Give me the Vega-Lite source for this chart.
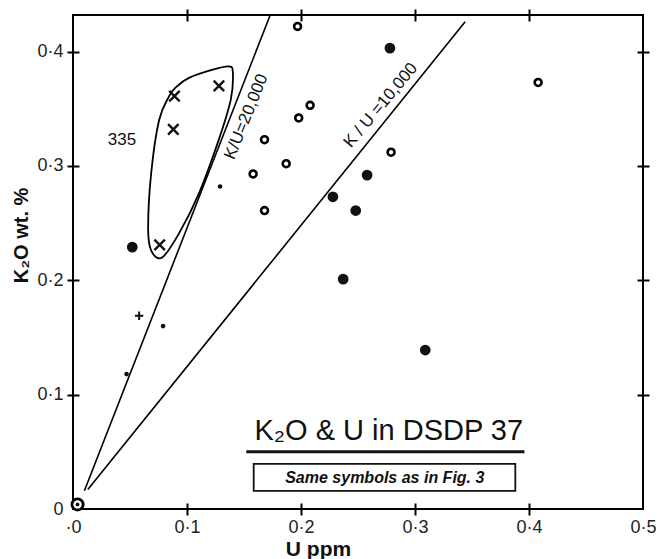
{
  "$schema": "https://vega.github.io/schema/vega-lite/v6.json",
  "width": 570,
  "height": 494,
  "autosize": {"type": "none"},
  "padding": {"left": 73, "top": 15, "right": 24, "bottom": 50},
  "background": "white",
  "config": {"view": {"stroke": "black", "strokeWidth": 2}, "font": "Liberation Sans"},
  "datasets": {
    "lines": [
      {"line": "K/U=20000", "u": 0.010, "k": 0.016},
      {"line": "K/U=20000", "u": 0.173, "k": 0.432},
      {"line": "K/U=10000", "u": 0.013, "k": 0.017},
      {"line": "K/U=10000", "u": 0.344, "k": 0.426}
    ],
    "loop": [
      {"o": 1, "u": 0.0904, "k": 0.369},
      {"o": 2, "u": 0.1017, "k": 0.377},
      {"o": 3, "u": 0.1218, "k": 0.384},
      {"o": 4, "u": 0.1367, "k": 0.387},
      {"o": 5, "u": 0.1402, "k": 0.382},
      {"o": 6, "u": 0.1384, "k": 0.358},
      {"o": 7, "u": 0.1279, "k": 0.323},
      {"o": 8, "u": 0.1105, "k": 0.276},
      {"o": 9, "u": 0.0930, "k": 0.241},
      {"o": 10, "u": 0.0782, "k": 0.220},
      {"o": 11, "u": 0.0686, "k": 0.226},
      {"o": 12, "u": 0.0659, "k": 0.246},
      {"o": 13, "u": 0.0686, "k": 0.294},
      {"o": 14, "u": 0.0755, "k": 0.340},
      {"o": 15, "u": 0.0843, "k": 0.361}
    ],
    "pts": [
      {"kind": "open", "u": 0.197, "k": 0.422},
      {"kind": "open", "u": 0.408, "k": 0.373},
      {"kind": "open", "u": 0.208, "k": 0.353},
      {"kind": "open", "u": 0.198, "k": 0.342},
      {"kind": "open", "u": 0.168, "k": 0.323},
      {"kind": "open", "u": 0.187, "k": 0.302},
      {"kind": "open", "u": 0.158, "k": 0.293},
      {"kind": "open", "u": 0.168, "k": 0.261},
      {"kind": "open", "u": 0.279, "k": 0.312},
      {"kind": "filled", "u": 0.278, "k": 0.403},
      {"kind": "filled", "u": 0.258, "k": 0.292},
      {"kind": "filled", "u": 0.228, "k": 0.273},
      {"kind": "filled", "u": 0.248, "k": 0.261},
      {"kind": "filled", "u": 0.309, "k": 0.139},
      {"kind": "filled", "u": 0.237, "k": 0.201},
      {"kind": "filled", "u": 0.052, "k": 0.229},
      {"kind": "small", "u": 0.129, "k": 0.282},
      {"kind": "small", "u": 0.079, "k": 0.160},
      {"kind": "small", "u": 0.047, "k": 0.118},
      {"kind": "plus", "u": 0.058, "k": 0.169},
      {"kind": "cross", "u": 0.128, "k": 0.370},
      {"kind": "cross", "u": 0.089, "k": 0.361},
      {"kind": "cross", "u": 0.088, "k": 0.332},
      {"kind": "cross", "u": 0.076, "k": 0.231},
      {"kind": "origin", "u": 0.004, "k": 0.004}
    ]
  },
  "resolve": {"axis": {"x": "independent", "y": "independent"}},
  "layer": [
    {
      "data": {"name": "lines"},
      "mark": {"type": "line", "color": "black", "strokeWidth": 1.6},
      "encoding": {
        "x": {
          "field": "u", "type": "quantitative",
          "scale": {"domain": [0, 0.5], "nice": false, "zero": false},
          "axis": {
            "orient": "bottom", "values": [0, 0.1, 0.2, 0.3, 0.4, 0.5],
            "domain": false, "grid": false, "offset": -6, "tickSize": 12, "tickWidth": 2, "tickColor": "black",
            "tickOpacity": {"condition": {"test": "datum.value < 0.001 || datum.value > 0.499", "value": 0}, "value": 1},
            "labelPadding": 3, "labelFontSize": 18, "labelColor": "#222", "labelFlush": false, "labelOverlap": false,
            "labelExpr": "datum.value < 0.001 ? '·0' : replace(format(datum.value, '.1f'), '.', '·')",
            "title": "U ppm", "titleFontSize": 21, "titleFontWeight": "bold", "titleColor": "#111",
            "titleX": 245, "titleY": 46, "titleBaseline": "middle"
          }
        },
        "y": {
          "field": "k", "type": "quantitative",
          "scale": {"domain": [0, 0.432], "nice": false, "zero": false},
          "axis": {
            "orient": "left", "values": [0, 0.1, 0.2, 0.3, 0.4],
            "domain": false, "grid": false, "offset": -6, "tickSize": 12, "tickWidth": 2, "tickColor": "black",
            "tickOpacity": {"condition": {"test": "datum.value < 0.001", "value": 0}, "value": 1},
            "labelPadding": 4, "labelFontSize": 18, "labelColor": "#222", "labelOverlap": false, "labelFlush": false,
            "labelExpr": "datum.value < 0.001 ? '0' : replace(format(datum.value, '.1f'), '.', '·')",
            "title": "K₂O  wt. %", "titleFontSize": 20, "titleFontWeight": "bold", "titleColor": "#111",
            "titleX": -58, "titleY": 220, "titleBaseline": "middle", "titleAngle": -90
          }
        },
        "detail": {"field": "line"}
      }
    },
    {
      "data": {"name": "lines"},
      "mark": {"type": "line", "opacity": 0},
      "encoding": {
        "x": {
          "field": "u", "type": "quantitative",
          "scale": {"domain": [0, 0.5], "nice": false, "zero": false},
          "axis": {
            "orient": "top", "values": [0.1, 0.2, 0.3, 0.4], "labels": false, "title": null,
            "domain": false, "grid": false, "offset": -6, "tickSize": 12, "tickWidth": 2, "tickColor": "black"
          }
        },
        "y": {
          "field": "k", "type": "quantitative",
          "scale": {"domain": [0, 0.432], "nice": false, "zero": false},
          "axis": {
            "orient": "right", "values": [0.1, 0.2, 0.3, 0.4], "labels": false, "title": null,
            "domain": false, "grid": false, "offset": -6, "tickSize": 12, "tickWidth": 2, "tickColor": "black"
          }
        },
        "detail": {"field": "line"}
      }
    },
    {
      "data": {"name": "loop"},
      "mark": {"type": "line", "color": "black", "strokeWidth": 1.8, "interpolate": "cardinal-closed"},
      "encoding": {
        "x": {"field": "u", "type": "quantitative", "axis": null},
        "y": {"field": "k", "type": "quantitative", "axis": null},
        "order": {"field": "o"}
      }
    },
    {
      "data": {"name": "pts"},
      "transform": [{"filter": "datum.kind === 'open'"}],
      "mark": {"type": "point", "shape": "circle", "filled": false, "stroke": "black", "fill": "white", "strokeWidth": 2.6, "size": 48, "opacity": 1},
      "encoding": {
        "x": {"field": "u", "type": "quantitative", "axis": null},
        "y": {"field": "k", "type": "quantitative", "axis": null}
      }
    },
    {
      "data": {"name": "pts"},
      "transform": [{"filter": "datum.kind === 'filled'"}],
      "mark": {"type": "point", "shape": "circle", "filled": true, "color": "#111", "size": 115, "opacity": 1},
      "encoding": {
        "x": {"field": "u", "type": "quantitative", "axis": null},
        "y": {"field": "k", "type": "quantitative", "axis": null}
      }
    },
    {
      "data": {"name": "pts"},
      "transform": [{"filter": "datum.kind === 'small'"}],
      "mark": {"type": "point", "shape": "circle", "filled": true, "color": "#111", "size": 22, "opacity": 1},
      "encoding": {
        "x": {"field": "u", "type": "quantitative", "axis": null},
        "y": {"field": "k", "type": "quantitative", "axis": null}
      }
    },
    {
      "data": {"name": "pts"},
      "transform": [{"filter": "datum.kind === 'cross'"}],
      "mark": {"type": "point", "shape": "M-1,-1L1,1M-1,1L1,-1", "filled": false, "stroke": "#111", "strokeWidth": 2.4, "size": 110, "opacity": 1},
      "encoding": {
        "x": {"field": "u", "type": "quantitative", "axis": null},
        "y": {"field": "k", "type": "quantitative", "axis": null}
      }
    },
    {
      "data": {"name": "pts"},
      "transform": [{"filter": "datum.kind === 'plus'"}],
      "mark": {"type": "point", "shape": "M-1,0L1,0M0,-1L0,1", "filled": false, "stroke": "#111", "strokeWidth": 2, "size": 70, "opacity": 1},
      "encoding": {
        "x": {"field": "u", "type": "quantitative", "axis": null},
        "y": {"field": "k", "type": "quantitative", "axis": null}
      }
    },
    {
      "data": {"name": "pts"},
      "transform": [{"filter": "datum.kind === 'origin'"}],
      "mark": {"type": "point", "shape": "circle", "filled": false, "stroke": "black", "fill": "white", "strokeWidth": 2.8, "size": 125, "opacity": 1},
      "encoding": {
        "x": {"field": "u", "type": "quantitative", "axis": null},
        "y": {"field": "k", "type": "quantitative", "axis": null}
      }
    },
    {
      "data": {"name": "pts"},
      "transform": [{"filter": "datum.kind === 'origin'"}],
      "mark": {"type": "point", "shape": "circle", "filled": true, "color": "black", "size": 14, "opacity": 1},
      "encoding": {
        "x": {"field": "u", "type": "quantitative", "axis": null},
        "y": {"field": "k", "type": "quantitative", "axis": null}
      }
    },
    {
      "data": {"values": [
        {"u": 0.152, "k": 0.343, "label": "K/U=20,000", "ang": -68},
        {"u": 0.270, "k": 0.353, "label": "K / U =10,000", "ang": -50}
      ]},
      "mark": {"type": "text", "fontSize": 17, "color": "#111", "align": "center", "baseline": "middle"},
      "encoding": {
        "x": {"field": "u", "type": "quantitative", "axis": null},
        "y": {"field": "k", "type": "quantitative", "axis": null},
        "text": {"field": "label"},
        "angle": {"field": "ang", "type": "quantitative", "scale": null}
      }
    },
    {
      "data": {"values": [{"u": 0.043, "k": 0.323, "label": "335"}]},
      "mark": {"type": "text", "fontSize": 17, "color": "#111", "align": "center", "baseline": "middle"},
      "encoding": {
        "x": {"field": "u", "type": "quantitative", "axis": null},
        "y": {"field": "k", "type": "quantitative", "axis": null},
        "text": {"field": "label"}
      }
    },
    {
      "data": {"values": [{"u": 0.277, "k": 0.068, "label": "K₂O & U in  DSDP 37"}]},
      "mark": {"type": "text", "fontSize": 29, "color": "#111", "align": "center", "baseline": "middle"},
      "encoding": {
        "x": {"field": "u", "type": "quantitative", "axis": null},
        "y": {"field": "k", "type": "quantitative", "axis": null},
        "text": {"field": "label"}
      }
    },
    {
      "data": {"values": [{"u": 0.152, "u2": 0.396, "k": 0.050}]},
      "mark": {"type": "rule", "color": "#111", "strokeWidth": 3},
      "encoding": {
        "x": {"field": "u", "type": "quantitative", "axis": null},
        "x2": {"field": "u2"},
        "y": {"field": "k", "type": "quantitative", "axis": null}
      }
    },
    {
      "data": {"values": [{"u": 0.1585, "u2": 0.388, "k": 0.0158, "k2": 0.0395}]},
      "mark": {"type": "rect", "fill": "white", "stroke": "#111", "strokeWidth": 1.8},
      "encoding": {
        "x": {"field": "u", "type": "quantitative", "axis": null},
        "x2": {"field": "u2"},
        "y": {"field": "k", "type": "quantitative", "axis": null},
        "y2": {"field": "k2"}
      }
    },
    {
      "data": {"values": [{"u": 0.2735, "k": 0.0275, "label": "Same  symbols as  in  Fig. 3"}]},
      "mark": {"type": "text", "fontSize": 16, "fontStyle": "italic", "fontWeight": "bold", "color": "#111", "align": "center", "baseline": "middle"},
      "encoding": {
        "x": {"field": "u", "type": "quantitative", "axis": null},
        "y": {"field": "k", "type": "quantitative", "axis": null},
        "text": {"field": "label"}
      }
    }
  ]
}
